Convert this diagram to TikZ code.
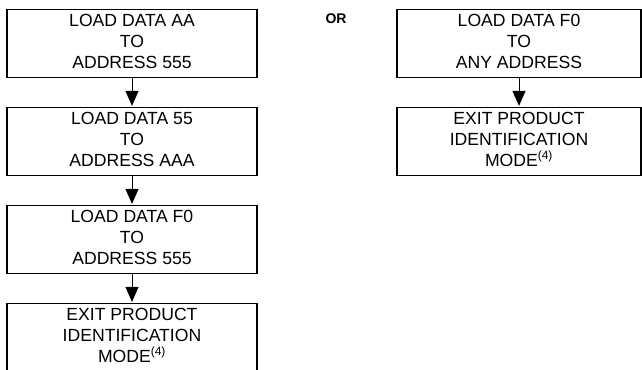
\documentclass[tikz,border=0pt]{standalone}
\usepackage{fontspec}
\setmainfont{Liberation Sans}
\usetikzlibrary{arrows.meta}
\newcommand{\lastpad}{\rule[-5bp]{0pt}{0pt}}
\newcommand{\supfour}{\textsuperscript{\fontsize{12bp}{13bp}\selectfont(4)}}
\begin{document}
\begin{tikzpicture}[x=1bp,y=-1bp,
  stepbox/.style={draw, line width=1.2bp, minimum height=68bp, inner sep=0pt, align=center,
    font=\fontsize{17.6bp}{21bp}\selectfont},
  lbox/.style={stepbox, minimum width=250bp},
  rbox/.style={stepbox, minimum width=244bp},
  flow/.style={line width=1bp, -{Triangle[length=15bp,width=13bp]}, shorten >=1bp}]
\useasboundingbox (0,0) rectangle (642,369);
\node[lbox] (a1) at (132,43.7) {LOAD DATA AA\\TO\\ADDRESS 555\lastpad};
\node[lbox] (a2) at (132,141.5) {LOAD DATA 55\\TO\\ADDRESS AAA\lastpad};
\node[lbox] (a3) at (132,239.5) {LOAD DATA F0\\TO\\ADDRESS 555\lastpad};
\node[lbox] (a4) at (132,337.5) {EXIT PRODUCT\\IDENTIFICATION\\MODE\supfour\lastpad};
\node[rbox] (b1) at (519,43.7) {LOAD DATA F0\\TO\\ANY ADDRESS\lastpad};
\node[rbox] (b2) at (519,141.5) {EXIT PRODUCT\\IDENTIFICATION\\MODE\supfour\lastpad};
\node[font=\fontsize{14bp}{15bp}\selectfont\bfseries] (or) at (336,18.5) {OR};
\draw[flow] (a1) -- (a2);
\draw[flow] (a2) -- (a3);
\draw[flow] (a3) -- (a4);
\draw[flow] (b1) -- (b2);
\end{tikzpicture}
\end{document}
